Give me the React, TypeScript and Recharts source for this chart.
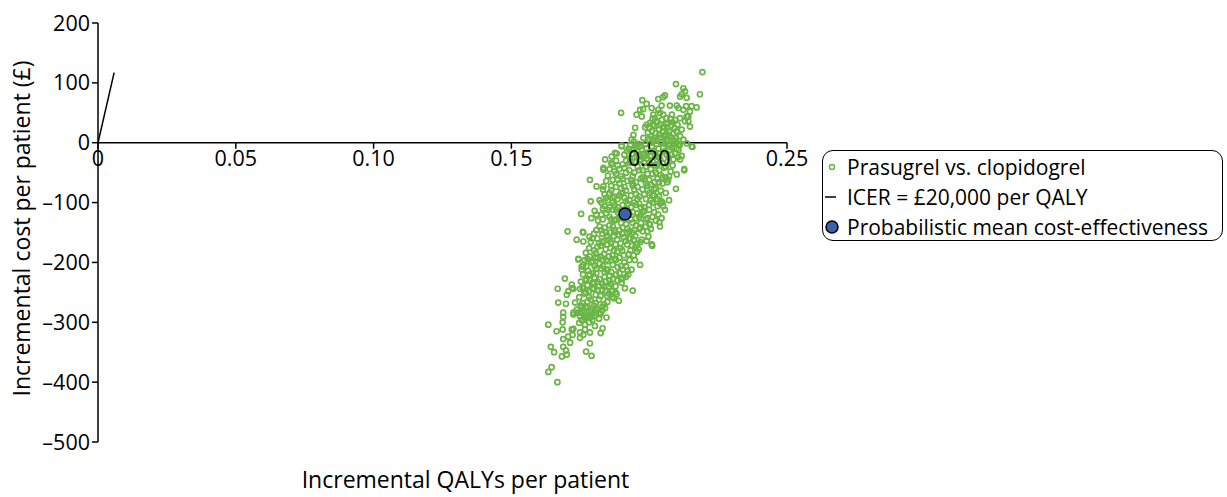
import { ScatterChart, Scatter, XAxis, YAxis, ReferenceLine } from "recharts";

// Probabilistic sensitivity analysis: [incremental QALYs, incremental cost £]
const psaUpper: [number, number][] = [
  [0.2193, 118], [0.2097, 98], [0.2184, 81], [0.2130, 86], [0.2118, 81], [0.2136, 75], [0.2112, 77],
  [0.2050, 76], [0.2033, 73], [0.1975, 71], [0.2172, 59], [0.2075, 62], [0.1991, 65], [0.2009, 58],
  [0.1978, 56], [0.1898, 50], [0.2045, 62], [0.2033, 55], [0.2039, 50], [0.2106, 58], [0.2124, 55],
  [0.2134, 61], [0.2148, 52], [0.2142, 44], [0.2130, 36], [0.1973, 44], [0.1954, 47], [0.1967, 55],
  [0.2015, 47], [0.2021, 41], [0.2051, 47], [0.2063, 41], [0.2082, 47], [0.2094, 38], [0.2112, 41],
  [0.2124, 91], [0.2100, 62], [0.2057, 79], [0.2154, 61], [0.2136, 44], [0.2142, 36],
  [0.2003, 33], [0.2018, 28], [0.2030, 35], [0.2042, 30], [0.2055, 26], [0.2068, 33], [0.2080, 29],
  [0.2093, 24], [0.2010, 20], [0.2024, 16], [0.2036, 22], [0.2049, 18], [0.2061, 13], [0.2073, 20],
  [0.2087, 15], [0.2099, 19], [0.2006, 10], [0.2040, 8], [0.2052, 12], [0.2066, 6], [0.2079, 9],
  [0.2028, 4], [0.1995, 17], [0.2012, 40], [0.2046, 38], [0.2077, 40], [0.2103, 30],
  [0.1949, 25], [0.1943, 13], [0.2148, 27], [0.2118, 22], [0.2112, 11], [0.1991, 30],
  [0.1936, 5], [0.1954, -3], [0.2124, 5], [0.2154, -6], [0.2136, -1], [0.2106, -3], [0.2069, -3],
  [0.1900, -6], [0.1876, -17], [0.1864, -23], [0.1882, -18], [0.1900, -5], [0.1840, -28], [0.2157, -7],
  [0.1925, -10], [0.1938, -18], [0.1950, -8], [0.1962, -22], [0.1974, -12], [0.1986, -2], [0.1998, -16],
  [0.2010, -6], [0.2022, -20], [0.2034, -10], [0.2046, 0], [0.2058, -14], [0.2070, -24], [0.2082, -8],
  [0.2094, -18], [0.2106, -12], [0.2118, -22], [0.1944, 2], [0.1968, -28], [0.1992, -26], [0.2016, 4],
  [0.2040, -28], [0.2064, 2], [0.2088, -28], [0.1910, -20], [0.1930, -26], [0.2000, 6], [0.2076, -4],
  [0.2100, 0], [0.1956, -14],
];

const psaMiddle: [number, number][] = [
  [0.2127, -46], [0.2112, -28], [0.2127, -44], [0.1834, -42], [0.1834, -45], [0.1785, -62], [0.1809, -73],
  [0.1834, -73], [0.2069, -62], [0.2100, -53],
  [0.1862, -34], [0.1874, -48], [0.1886, -38], [0.1898, -56], [0.1910, -42], [0.1922, -64], [0.1934, -32],
  [0.1946, -50], [0.1958, -40], [0.1970, -60], [0.1982, -34], [0.1994, -52], [0.2006, -44], [0.2018, -66],
  [0.2030, -36], [0.2042, -54], [0.2054, -42], [0.2066, -32], [0.2078, -48], [0.1868, -62], [0.1892, -68],
  [0.1916, -30], [0.1940, -68], [0.1964, -30], [0.1988, -68], [0.2012, -30], [0.2036, -66], [0.2060, -58],
  [0.1850, -55], [0.1880, -30], [0.1928, -46], [0.1976, -46], [0.2024, -50], [0.2048, -68], [0.2085, -38],
  [0.2097, -77], [0.2045, -98], [0.2057, -112], [0.2039, -101], [0.2051, -106], [0.1753, -119], [0.1788, -98],
  [0.1832, -78], [0.1844, -92], [0.1856, -84], [0.1868, -100], [0.1880, -74], [0.1892, -88], [0.1904, -104],
  [0.1916, -80], [0.1928, -96], [0.1940, -72], [0.1952, -86], [0.1964, -102], [0.1976, -78], [0.1988, -94],
  [0.2000, -84], [0.2012, -100], [0.2024, -76], [0.2036, -90], [0.1838, -106], [0.1862, -72], [0.1886, -108],
  [0.1910, -92], [0.1934, -108], [0.1958, -74], [0.1982, -108], [0.2006, -70], [0.2030, -106], [0.2060, -84],
  [0.2072, -96], [0.1820, -96], [0.1898, -76], [0.1946, -100], [0.1994, -80], [0.2018, -88], [0.1874, -90],
  [0.2033, -120], [0.2045, -126], [0.2003, -137], [0.1967, -142], [0.2039, -140], [0.2037, -133],
  [0.1704, -148], [0.1761, -150], [0.1759, -149],
  [0.1802, -114], [0.1814, -130], [0.1826, -120], [0.1838, -142], [0.1850, -112], [0.1862, -128], [0.1874, -146],
  [0.1886, -116], [0.1898, -134], [0.1922, -112], [0.1934, -128], [0.1946, -146], [0.1958, -118], [0.1970, -134],
  [0.1982, -114], [0.1994, -126], [0.2006, -144], [0.2018, -116], [0.1808, -146], [0.1832, -110], [0.1856, -138],
  [0.1880, -128], [0.1904, -142], [0.1928, -148], [0.1952, -138], [0.1976, -148], [0.2000, -112], [0.1790, -126],
  [0.1868, -112], [0.1916, -124], [0.1940, -116], [0.1964, -124], [0.1988, -140], [0.1844, -150], [0.2024, -130],
  [0.1737, -162], [0.1761, -165], [0.1783, -157], [0.2011, -172], [0.1997, -157], [0.1973, -162], [0.1991, -164],
  [0.2009, -170],
  [0.1782, -176], [0.1794, -160], [0.1806, -184], [0.1818, -168], [0.1830, -152], [0.1842, -178], [0.1854, -162],
  [0.1866, -188], [0.1878, -170], [0.1890, -154], [0.1902, -180], [0.1914, -164], [0.1926, -186], [0.1938, -172],
  [0.1950, -156], [0.1962, -178], [0.1800, -152], [0.1824, -190], [0.1848, -170], [0.1872, -156], [0.1896, -168],
  [0.1920, -150], [0.1944, -188], [0.1968, -166], [0.1770, -184], [0.1812, -174], [0.1860, -176], [0.1884, -182],
  [0.1908, -158], [0.1932, -160], [0.1956, -182], [0.1836, -164],
];

const psaLower: [number, number][] = [
  [0.1743, -194], [0.1761, -204], [0.1755, -212], [0.1743, -195], [0.1755, -207], [0.1924, -220], [0.1936, -212],
  [0.1967, -204], [0.1694, -227],
  [0.1766, -196], [0.1778, -214], [0.1790, -200], [0.1802, -226], [0.1814, -192], [0.1826, -210], [0.1838, -224],
  [0.1850, -198], [0.1862, -216], [0.1874, -194], [0.1886, -208], [0.1898, -228], [0.1910, -200], [0.1922, -214],
  [0.1772, -228], [0.1796, -218], [0.1820, -202], [0.1844, -212], [0.1868, -228], [0.1892, -192], [0.1916, -224],
  [0.1784, -190], [0.1808, -210], [0.1832, -196], [0.1856, -230], [0.1880, -220], [0.1904, -212], [0.1928, -196],
  [0.1760, -220], [0.1948, -196],
  [0.1668, -244], [0.1701, -254], [0.1707, -248], [0.1719, -237], [0.1725, -244], [0.1749, -244], [0.1670, -267],
  [0.1698, -269], [0.1731, -267], [0.1912, -243], [0.1940, -247], [0.1882, -253], [0.1864, -248], [0.1719, -243],
  [0.1761, -243],
  [0.1752, -232], [0.1764, -252], [0.1776, -238], [0.1788, -262], [0.1800, -244], [0.1812, -232], [0.1824, -256],
  [0.1836, -240], [0.1848, -266], [0.1860, -236], [0.1872, -260], [0.1758, -268], [0.1782, -248], [0.1806, -268],
  [0.1830, -246], [0.1854, -252], [0.1878, -240], [0.1770, -230], [0.1794, -234], [0.1818, -240], [0.1842, -232],
  [0.1866, -248], [0.1746, -258], [0.1890, -264], [0.1900, -234],
  [0.1840, -276], [0.1803, -284], [0.1785, -287], [0.1767, -293], [0.1749, -284], [0.1755, -273], [0.1737, -279],
  [0.1725, -284], [0.1688, -284], [0.1688, -291], [0.1686, -300], [0.1634, -304], [0.1767, -304], [0.1746, -301],
  [0.1755, -296], [0.1749, -290], [0.1737, -284], [0.1725, -287],
  [0.1752, -272], [0.1764, -280], [0.1776, -274], [0.1788, -282], [0.1800, -272], [0.1812, -278], [0.1824, -286],
  [0.1836, -270], [0.1770, -290], [0.1794, -296], [0.1818, -294], [0.1782, -300], [0.1806, -288], [0.1758, -296],
  [0.1830, -280], [0.1845, -292],
  [0.1664, -315], [0.1686, -312], [0.1719, -312], [0.1722, -321], [0.1706, -324], [0.1688, -328], [0.1713, -334],
  [0.1749, -326], [0.1761, -321], [0.1767, -312], [0.1785, -317], [0.1803, -306], [0.1831, -310], [0.1824, -318],
  [0.1785, -335], [0.1643, -341], [0.1655, -350], [0.1688, -341], [0.1698, -347], [0.1683, -357], [0.1701, -354],
  [0.1771, -349], [0.1791, -356], [0.1646, -375], [0.1634, -383], [0.1667, -400], [0.1725, -311], [0.1749, -317],
];

// extra simulations in the dense centre of the cloud
const psaCore: [number, number][] = [
  [0.1931, -4], [0.1943, -12], [0.1955, -24], [0.1967, -6], [0.1979, -18], [0.1991, -10], [0.2003, -22],
  [0.2015, -14], [0.2027, -2], [0.2039, -18], [0.2051, -8], [0.2063, -20], [0.2075, -12], [0.2087, -2],
  [0.2099, -10], [0.2111, -4], [0.1919, -14], [0.1961, -2], [0.1985, -22], [0.2009, 0], [0.2033, -24],
  [0.2057, -2], [0.2081, -20], [0.2105, -24],
  [0.2001, 24], [0.2013, 30], [0.2025, 36], [0.2037, 14], [0.2049, 26], [0.2061, 32], [0.2073, 12],
  [0.2085, 34], [0.2097, 8], [0.2019, 8], [0.2043, 2], [0.2067, 24], [0.2091, 4], [0.1985, 26], [0.1979, 8],
  [0.1856, -44], [0.1868, -36], [0.1880, -52], [0.1892, -44], [0.1904, -60], [0.1916, -50], [0.1928, -34],
  [0.1940, -56], [0.1952, -66], [0.1964, -46], [0.1976, -58], [0.1988, -40], [0.2000, -62], [0.2012, -52],
  [0.2024, -38], [0.2036, -46], [0.2048, -58], [0.2060, -40], [0.2072, -56], [0.1904, -36], [0.1952, -32],
  [0.2000, -34], [0.2048, -34], [0.1886, -62], [0.1934, -62], [0.1982, -62], [0.2030, -60], [0.1844, -64],
  [0.2066, -66],
  [0.1838, -86], [0.1850, -96], [0.1862, -80], [0.1874, -104], [0.1886, -94], [0.1898, -84], [0.1910, -74],
  [0.1922, -102], [0.1934, -88], [0.1946, -78], [0.1958, -94], [0.1970, -108], [0.1982, -86], [0.1994, -72],
  [0.2006, -96], [0.2018, -78], [0.2030, -94], [0.2042, -80], [0.1856, -108], [0.1904, -84], [0.1952, -104],
  [0.2000, -104], [0.1826, -100], [0.1868, -92], [0.1916, -98], [0.1964, -90], [0.2012, -88], [0.2048, -100],
  [0.1808, -120], [0.1820, -140], [0.1832, -128], [0.1844, -118], [0.1856, -124], [0.1868, -140], [0.1880, -112],
  [0.1892, -146], [0.1904, -118], [0.1916, -136], [0.1928, -118], [0.1940, -134], [0.1952, -126], [0.1964, -144],
  [0.1976, -116], [0.1988, -128], [0.2000, -136], [0.2012, -124], [0.1826, -146], [0.1874, -130], [0.1922, -144],
  [0.1970, -120], [0.1892, -124], [0.1856, -150], [0.1940, -150], [0.1994, -148],
  [0.1788, -166], [0.1800, -180], [0.1812, -160], [0.1824, -172], [0.1836, -186], [0.1848, -156], [0.1860, -166],
  [0.1872, -180], [0.1884, -162], [0.1896, -176], [0.1908, -188], [0.1920, -170], [0.1932, -180], [0.1944, -162],
  [0.1956, -170], [0.1806, -192], [0.1854, -190], [0.1902, -152], [0.1950, -174], [0.1830, -166], [0.1878, -150],
  [0.1926, -160], [0.1776, -194],
  [0.1772, -206], [0.1784, -220], [0.1796, -198], [0.1808, -218], [0.1820, -228], [0.1832, -206], [0.1844, -196],
  [0.1856, -222], [0.1868, -204], [0.1880, -196], [0.1892, -218], [0.1904, -226], [0.1916, -206], [0.1802, -206],
  [0.1850, -212], [0.1898, -206], [0.1784, -230], [0.1838, -216], [0.1886, -230],
  [0.1758, -242], [0.1770, -250], [0.1782, -258], [0.1794, -244], [0.1806, -254], [0.1818, -262], [0.1830, -236],
  [0.1842, -248], [0.1854, -240], [0.1866, -258], [0.1878, -250], [0.1776, -266], [0.1812, -246], [0.1848, -256],
  [0.1800, -234],
  [0.1758, -284], [0.1770, -276], [0.1782, -290], [0.1794, -278], [0.1806, -280], [0.1818, -284], [0.1830, -274],
  [0.1788, -292], [0.1764, -288],
];

const meanPoint: [number, number][] = [[0.1912, -119]];

// willingness-to-pay threshold of £20,000 per QALY
const icerLine: [number, number][] = [[0, 0], [0.00585, 117]];

const xTicks = [0, 0.05, 0.1, 0.15, 0.2, 0.25];
const yTicks = [-500, -400, -300, -200, -100, 0, 100, 200];

const toPoints = (rows: [number, number][]) => rows.map(([q, c]) => ({ q, c }));
const psaPoints = toPoints([...psaUpper, ...psaMiddle, ...psaLower, ...psaCore]);

const FONT = "'Open Sans', sans-serif";
const GREEN = "#6ab545";
const BLUE = "#3a62aa";

const W = 1227;
const H = 497;
const TOP = 23;
const PLOT_H = 419;
const Y_MIN = -500;
const Y_MAX = 200;
const ZERO_Y = TOP + (PLOT_H * Y_MAX) / (Y_MAX - Y_MIN);

const XTick = (props: any) => {
  const { x, payload } = props;
  const v = payload.value as number;
  return (
    <g>
      <line x1={x} x2={x} y1={ZERO_Y} y2={ZERO_Y + 6} stroke="#000" strokeWidth={1.5} />
      <text x={x} y={ZERO_Y + 23} textAnchor="middle" fontSize={21.5} fontFamily={FONT} fill="#000">
        {v === 0 ? "0" : v.toFixed(2)}
      </text>
    </g>
  );
};

const Hollow = (props: any) => (
  <circle cx={props.cx} cy={props.cy} r={2.5} fill="none" stroke={GREEN} strokeWidth={1.7} />
);

const MeanDot = (props: any) => (
  <circle cx={props.cx} cy={props.cy} r={6} fill={BLUE} stroke="#000" strokeWidth={1.5} />
);

const legendItems = [
  { label: "Prasugrel vs. clopidogrel", kind: "psa" },
  { label: "ICER = £20,000 per QALY", kind: "line" },
  { label: "Probabilistic mean cost-effectiveness", kind: "mean" },
];

const LegendBox = () => (
  <div
    style={{
      position: "absolute",
      left: 822,
      top: 150,
      width: 401,
      height: 91,
      border: "1.5px solid #000",
      borderRadius: 11,
      fontFamily: FONT,
      fontSize: 21,
      color: "#000",
      boxSizing: "border-box",
    }}
  >
    {legendItems.map((item, i) => (
      <div
        key={item.kind}
        style={{ position: "absolute", left: 0, top: 1 + i * 30, height: 30, display: "flex", alignItems: "center", whiteSpace: "nowrap" }}
      >
        <svg width={24} height={30}>
          {item.kind === "psa" && <circle cx={9} cy={15} r={2.5} fill="none" stroke={GREEN} strokeWidth={1.5} />}
          {item.kind === "line" && <line x1={2} x2={13} y1={15} y2={15} stroke="#000" strokeWidth={1.5} />}
          {item.kind === "mean" && <circle cx={9} cy={15} r={6} fill={BLUE} stroke="#000" strokeWidth={1.5} />}
        </svg>
        <span>{item.label}</span>
      </div>
    ))}
  </div>
);

export default function App() {
  return (
    <div style={{ position: "absolute", left: 0, top: 0, width: W, height: H, background: "#fff" }}>
      <ScatterChart width={W} height={H} margin={{ top: TOP, right: 440, bottom: 0, left: 0 }}>
        <XAxis
          type="number"
          dataKey="q"
          domain={[0, 0.25]}
          ticks={xTicks}
          axisLine={false}
          tickLine={false}
          tick={<XTick />}
          height={55}
          label={{
            value: "Incremental QALYs per patient",
            position: "insideBottom",
            offset: 9,
            dx: 23,
            style: { fontFamily: FONT, fontSize: 23, fill: "#000" },
          }}
        />
        <YAxis
          type="number"
          dataKey="c"
          domain={[Y_MIN, Y_MAX]}
          ticks={yTicks}
          width={98}
          axisLine={{ stroke: "#000", strokeWidth: 1.5 }}
          tickLine={{ stroke: "#000", strokeWidth: 1.5 }}
          tickSize={6}
          tickFormatter={(v: number) => String(v).replace("-", "–")}
          tick={{ fontFamily: FONT, fontSize: 21.5, fill: "#000" }}
          label={{
            value: "Incremental cost per patient (£)",
            angle: -90,
            position: "center",
            dx: -27,
            dy: -4,
            style: { fontFamily: FONT, fontSize: 23, fill: "#000", textAnchor: "middle" },
          }}
        />
        <ReferenceLine y={0} stroke="#000" strokeWidth={1.5} />
        <Scatter data={toPoints(icerLine)} line={{ stroke: "#000", strokeWidth: 1.5 }} shape={() => <g />} isAnimationActive={false} />
        <Scatter data={psaPoints} shape={<Hollow />} isAnimationActive={false} />
        <Scatter data={toPoints(meanPoint)} shape={<MeanDot />} isAnimationActive={false} />
      </ScatterChart>
      <LegendBox />
    </div>
  );
}
